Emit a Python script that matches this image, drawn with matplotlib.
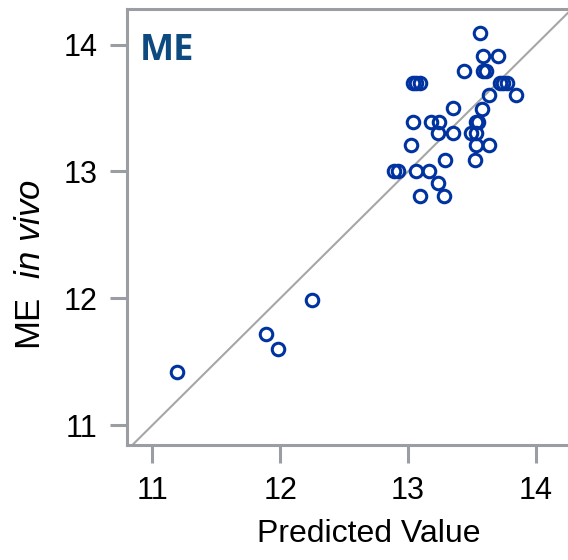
import matplotlib.pyplot as plt

plt.rcParams['font.family'] = ['Liberation Sans', 'DejaVu Sans']
plt.rcParams['mathtext.fontset'] = 'custom'
plt.rcParams['mathtext.rm'] = 'Liberation Sans'
plt.rcParams['mathtext.it'] = 'Liberation Sans:italic'

predicted = [11.19, 11.89, 11.98, 12.25,
             13.56, 13.585, 13.70, 13.44, 13.585, 13.61,
             13.04, 13.065, 13.09, 13.715, 13.74, 13.77,
             13.84, 13.63, 13.35, 13.58,
             13.04, 13.18, 13.24, 13.53, 13.55,
             13.23, 13.35, 13.49, 13.53,
             13.02, 13.53, 13.63,
             13.29, 13.52,
             12.89, 12.92, 13.06, 13.16,
             13.23, 13.09, 13.28]
measured = [11.42, 11.72, 11.60, 11.99,
            14.09, 13.91, 13.91, 13.79, 13.79, 13.79,
            13.70, 13.70, 13.70, 13.70, 13.70, 13.70,
            13.60, 13.60, 13.50, 13.49,
            13.39, 13.39, 13.39, 13.39, 13.39,
            13.30, 13.30, 13.30, 13.30,
            13.21, 13.21, 13.21,
            13.09, 13.09,
            13.00, 13.00, 13.00, 13.00,
            12.91, 12.81, 12.81]

ticks = [11, 12, 13, 14]
gray = '#9a9ea2'

fig = plt.figure(figsize=(5.68, 5.60), dpi=100)
ax = fig.add_axes([0.2241, 0.2054, 0.7759, 0.7786])

ax.plot([10, 15], [10, 15], color='#a6a6a6', lw=1.5, zorder=1)
ax.plot(predicted, measured, 'o', ls='none', ms=9, mew=2.2,
        mfc='none', mec='#0033a0', zorder=2)

ax.set_xlim(10.805, 14.25)
ax.set_ylim(10.845, 14.28)
ax.set_xticks(ticks)
ax.set_yticks(ticks)
ax.tick_params(axis='both', length=12.6, width=2.2, color=gray,
               labelsize=22, direction='out')
ax.tick_params(axis='x', pad=10)
ax.tick_params(axis='y', pad=9)

for s in ['left', 'bottom', 'top']:
    ax.spines[s].set_color(gray)
    ax.spines[s].set_linewidth(2.2)
ax.spines['right'].set_visible(False)

ax.text(0.029, 0.883, 'ME', transform=ax.transAxes, fontsize=26,
        fontweight='bold', family='Open Sans', color='#0d4a80',
        va='baseline', ha='left')

fig.text(0.649, 0.032, 'Predicted Value', fontsize=23,
         ha='center', va='baseline')
fig.text(0.0537, 0.527, r'ME$\ \ \it{in\ vivo}$', fontsize=25,
         rotation=90, ha='center', va='center')

fig.savefig('out.png', dpi=100)
